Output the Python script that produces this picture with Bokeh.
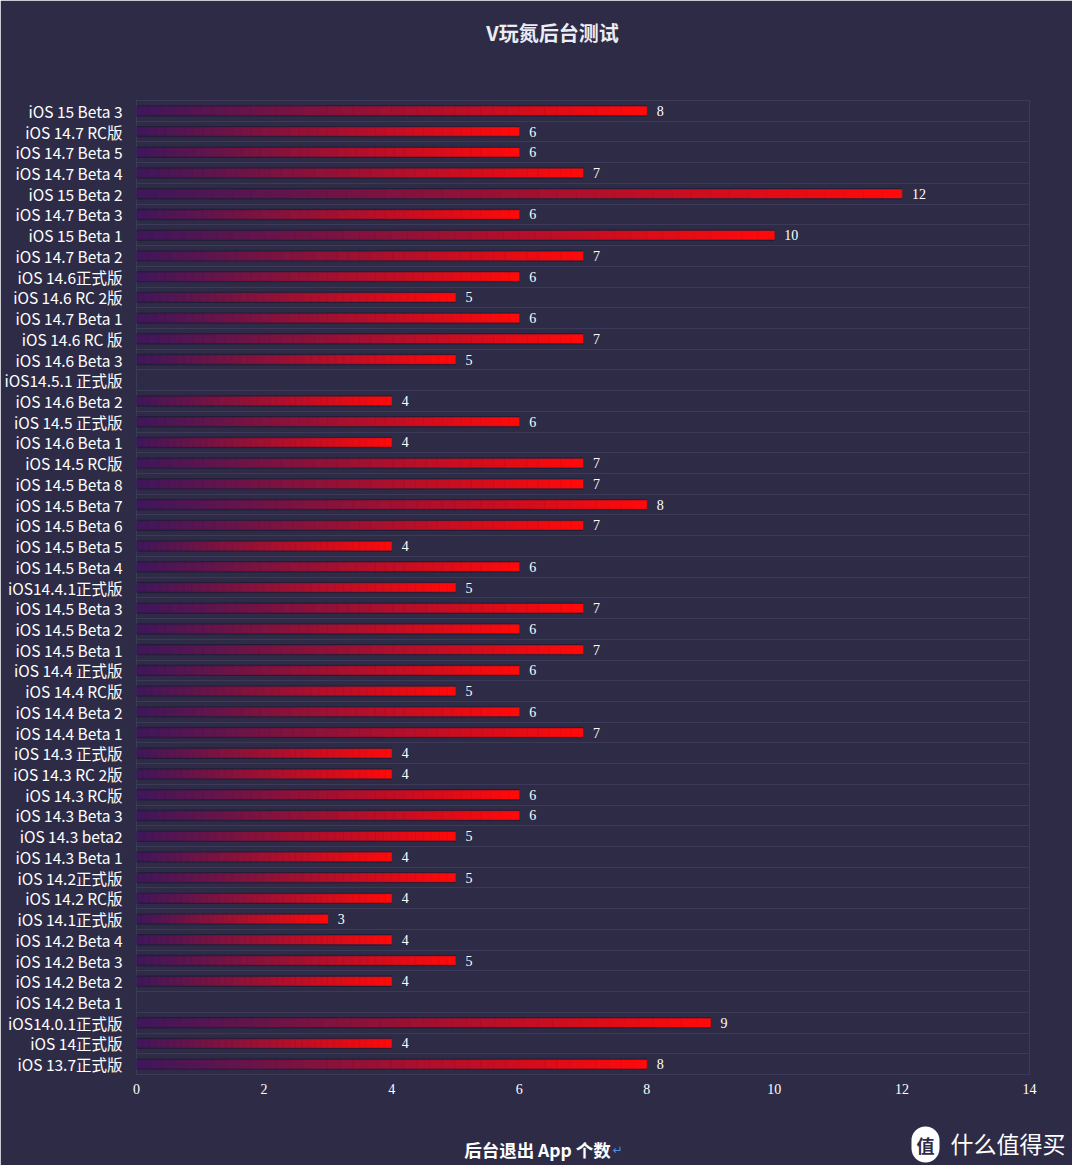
from bokeh.plotting import figure
from bokeh.models import FactorRange, ColumnDataSource, Label, FixedTicker, LabelSet
from bokeh.embed import file_html
from bokeh.resources import INLINE

title_text = "V玩氮后台测试"
x_label = "后台退出 App 个数"
watermark = "什么值得买"
watermark_logo = "值"

categories = [
    "iOS 15 Beta 3", "iOS 14.7 RC版", "iOS 14.7 Beta 5", "iOS 14.7 Beta 4",
    "iOS 15 Beta 2", "iOS 14.7 Beta 3", "iOS 15 Beta 1", "iOS 14.7 Beta 2",
    "iOS 14.6正式版", "iOS 14.6 RC 2版", "iOS 14.7 Beta 1", "iOS 14.6 RC 版",
    "iOS 14.6 Beta 3", "iOS14.5.1 正式版", "iOS 14.6 Beta 2", "iOS 14.5 正式版",
    "iOS 14.6 Beta 1", "iOS 14.5 RC版", "iOS 14.5 Beta 8", "iOS 14.5 Beta 7",
    "iOS 14.5 Beta 6", "iOS 14.5 Beta 5", "iOS 14.5 Beta 4", "iOS14.4.1正式版",
    "iOS 14.5 Beta 3", "iOS 14.5 Beta 2", "iOS 14.5 Beta 1", "iOS 14.4 正式版",
    "iOS 14.4 RC版", "iOS 14.4 Beta 2", "iOS 14.4 Beta 1", "iOS 14.3 正式版",
    "iOS 14.3 RC 2版", "iOS 14.3 RC版", "iOS 14.3 Beta 3", "iOS 14.3 beta2",
    "iOS 14.3 Beta 1", "iOS 14.2正式版", "iOS 14.2 RC版", "iOS 14.1正式版",
    "iOS 14.2 Beta 4", "iOS 14.2 Beta 3", "iOS 14.2 Beta 2", "iOS 14.2 Beta 1",
    "iOS14.0.1正式版", "iOS 14正式版", "iOS 13.7正式版",
]
apps_closed = [
    8, 6, 6, 7,
    12, 6, 10, 7,
    6, 5, 6, 7,
    5, None, 4, 6,
    4, 7, 7, 8,
    7, 4, 6, 5,
    7, 6, 7, 6,
    5, 6, 7, 4,
    4, 6, 6, 5,
    4, 5, 4, 3,
    4, 5, 4, None,
    9, 4, 8,
]
x_ticks = [0, 2, 4, 6, 8, 10, 12, 14]

BG = "#2e2b47"
GRID = "#3c3959"
C0 = (0x40, 0x17, 0x5a)
C1 = (0xff, 0x0a, 0x0a)
N_STEPS = 40

p = figure(
    width=1072, height=1165,
    y_range=FactorRange(factors=list(reversed(categories))),
    x_range=(x_ticks[0], x_ticks[-1]),
    output_backend="svg", toolbar_location=None,
    min_border_left=136, min_border_right=43,
    min_border_top=100, min_border_bottom=91,
)
p.frame_width = 893
p.frame_height = 974
p.background_fill_color = BG
p.border_fill_color = BG
p.outline_line_color = GRID
p.outline_line_width = 1
p.title.text = ""

p.xgrid.visible = False
p.ygrid.ticker = FixedTicker(ticks=list(range(len(categories) + 1)))
p.ygrid.grid_line_color = GRID
p.ygrid.grid_line_width = 1

cats = [c for c, v in zip(categories, apps_closed) if v is not None]
vals = [v for v in apps_closed if v is not None]

# shadow behind bars
p.hbar(y=cats, left=0, right=vals, height=0.55, fill_color="#17142a",
       fill_alpha=0.55, line_color=None)

# gradient bars built as slices of each value
ys, lefts, rights, colors = [], [], [], []
for c, v in zip(cats, vals):
    for k in range(N_STEPS):
        t = k / (N_STEPS - 1)
        col = "#%02x%02x%02x" % tuple(int(round(a + (b - a) * t)) for a, b in zip(C0, C1))
        ys.append(c)
        lefts.append(v * k / N_STEPS)
        rights.append(v * (k + 1) / N_STEPS)
        colors.append(col)
src = ColumnDataSource(dict(y=ys, left=lefts, right=rights, color=colors))
p.hbar(y="y", left="left", right="right", height=0.41, fill_color="color",
       line_color="color", line_width=0.5, source=src)

lab_src = ColumnDataSource(dict(y=cats, x=vals, t=[str(v) for v in vals]))
p.add_layout(LabelSet(x="x", y="y", text="t", source=lab_src, x_offset=10,
                      text_baseline="middle", text_color="#ffffff",
                      text_font="Liberation Serif", text_font_size="14px"))

# axes
p.xaxis.ticker = FixedTicker(ticks=x_ticks)
p.xaxis.axis_line_color = None
p.xaxis.major_tick_line_color = None
p.xaxis.major_tick_out = 0
p.xaxis.major_tick_in = 0
p.xaxis.minor_tick_line_color = None
p.xaxis.major_label_text_color = "#ffffff"
p.xaxis.major_label_text_font = "Liberation Serif"
p.xaxis.major_label_text_font_size = "14px"
p.xaxis.major_label_standoff = 9

p.yaxis.axis_line_color = None
p.yaxis.major_tick_line_color = None
p.yaxis.major_tick_out = 0
p.yaxis.major_tick_in = 0
p.yaxis.minor_tick_line_color = None
p.yaxis.major_label_text_color = "#ffffff"
p.yaxis.major_label_text_font = "Noto Sans CJK SC"
p.yaxis.major_label_text_font_size = "15.5px"
p.yaxis.major_label_standoff = 14

# texts outside the frame live in side panels (x relative to frame left,
# y relative to each panel's bottom edge)
p.add_layout(Label(x=416, y=68, x_units="screen", y_units="screen",
                   text=title_text, text_align="center", text_baseline="middle",
                   text_color="#ececf4", text_font="Noto Sans CJK SC",
                   text_font_size="20px", text_font_style="bold"), "above")
p.add_layout(Label(x=789, y=-1073, x_units="screen", y_units="screen",
                   text=watermark_logo, text_align="center", text_baseline="middle",
                   text_color="#2e2b47", text_font="Noto Sans CJK SC",
                   text_font_size="18px", text_font_style="bold",
                   background_fill_color="#ffffff", border_radius=15,
                   padding=5), "above")
p.add_layout(Label(x=476, y=-1114, x_units="screen", y_units="screen",
                   text="↵", text_align="left", text_baseline="middle",
                   text_color="#4a90e2", text_font="DejaVu Sans",
                   text_font_size="12px"), "above")

p.add_layout(Label(x=401, y=-28, x_units="screen", y_units="screen",
                   text=x_label, text_align="center", text_baseline="middle",
                   text_color="#ffffff", text_font="Noto Sans CJK SC",
                   text_font_size="17.5px", text_font_style="bold"), "below")
p.add_layout(Label(x=814, y=13, x_units="screen", y_units="screen",
                   text=watermark, text_align="left", text_baseline="middle",
                   text_color="#ffffff", text_font="Noto Sans CJK SC",
                   text_font_size="23px"), "below")

open("out.html", "w").write(file_html(p, INLINE))
